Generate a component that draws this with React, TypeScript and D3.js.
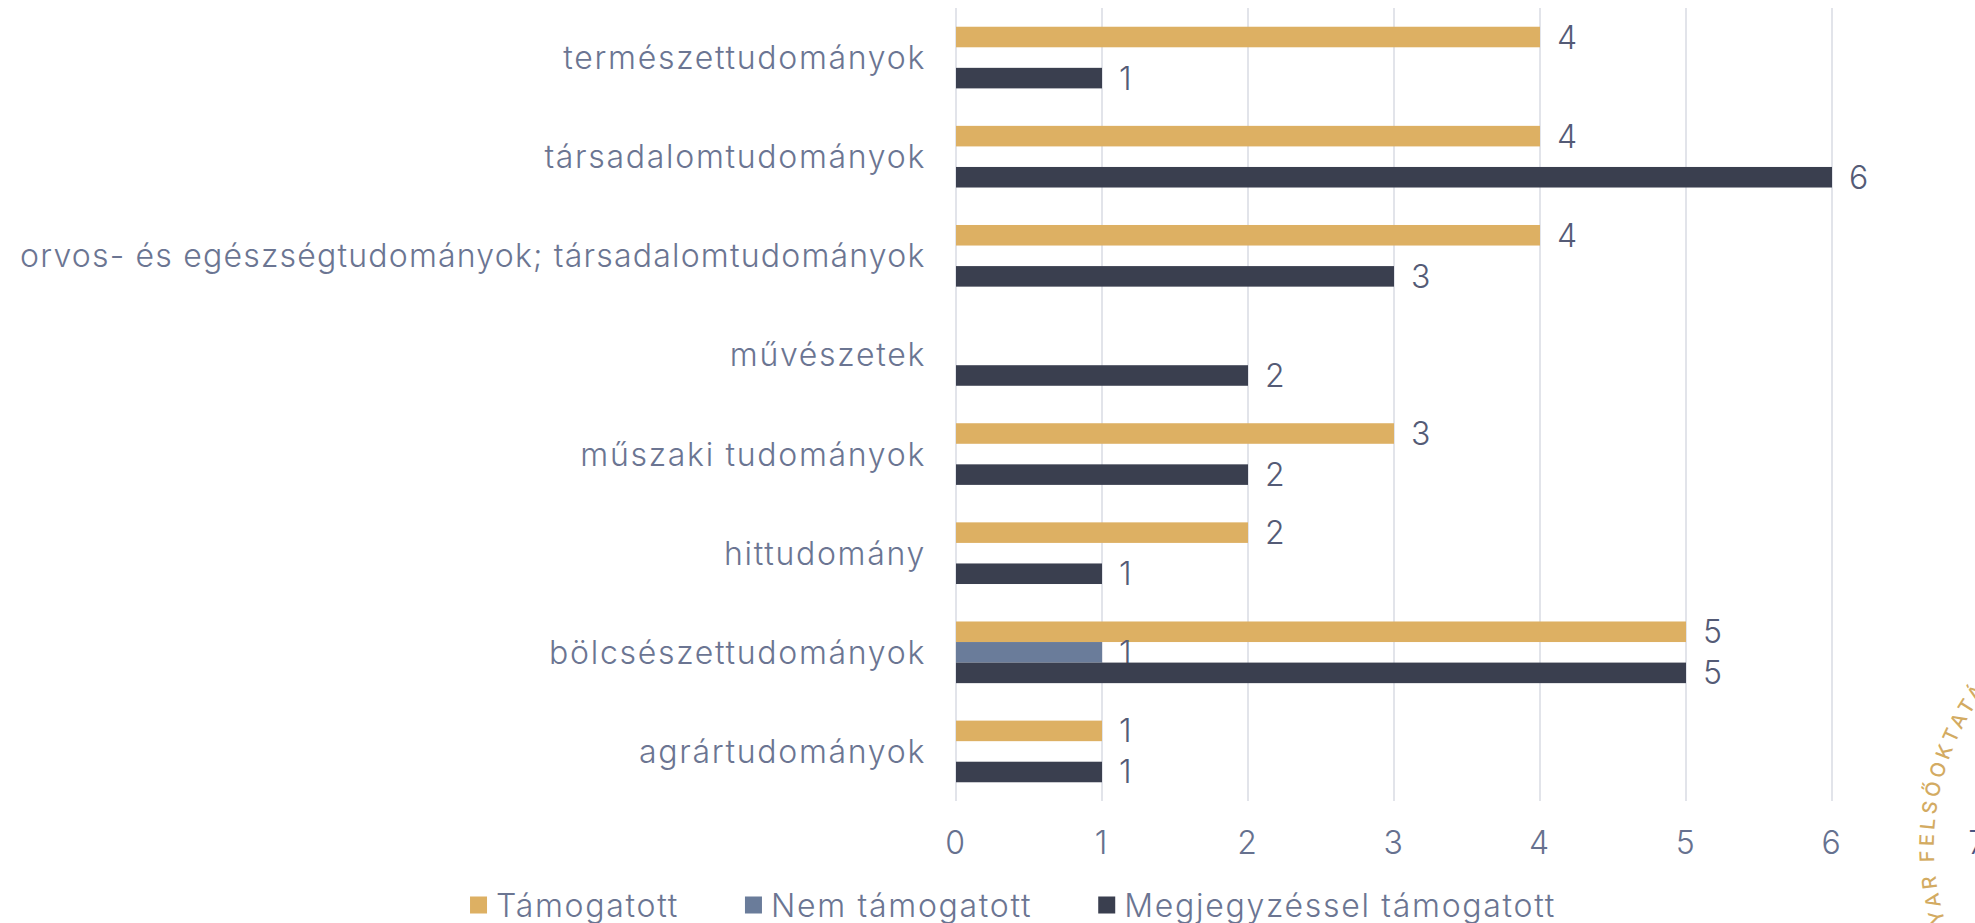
import React, { useEffect, useRef } from "react";
import * as d3 from "d3";

const categories = [
  "természettudományok",
  "társadalomtudományok",
  "orvos- és egészségtudományok; társadalomtudományok",
  "művészetek",
  "műszaki tudományok",
  "hittudomány",
  "bölcsészettudományok",
  "agrártudományok",
];
const seriesNames = ["Támogatott", "Nem támogatott", "Megjegyzéssel támogatott"];
const tamogatott = [4, 4, 4, null, 3, 2, 5, 1];
const nemTamogatott = [null, null, null, null, null, null, 1, null];
const megjegyzessel = [1, 6, 3, 2, 2, 1, 5, 1];
const xTicks = [0, 1, 2, 3, 4, 5, 6, 7];
const seriesColors = ["#DDB063", "#6A7C9A", "#3A3F4F"];
const watermark = "MAGYAR FELSŐOKTATÁSI AKKREDITÁCIÓS BIZOTTSÁG";

const FONT = "Inter, 'Open Sans', sans-serif";
const FS = 32;
const LS = 1.7;

export default function App() {
  const ref = useRef<SVGSVGElement>(null);

  useEffect(() => {
    const W = 1975, H = 923;
    const svg = d3.select(ref.current);
    svg.selectAll("*").remove();
    svg.attr("width", W).attr("height", H);

    const values = [tamogatott, nemTamogatott, megjegyzessel];

    const x = d3.scaleLinear().domain([0, 7]).range([956, 1978]);
    const y = d3.scaleBand<string>().domain(categories).range([8, 801])
      .paddingInner(0.378).paddingOuter(0.189);
    const ys = d3.scaleBand<string>().domain(seriesNames).range([0, y.bandwidth()]);

    const txt = (sel: any) => sel
      .attr("font-family", FONT).attr("font-weight", 300)
      .attr("font-size", FS).attr("letter-spacing", LS);

    // grid
    svg.append("g").selectAll("line").data(xTicks).enter().append("line")
      .attr("x1", d => x(d)).attr("x2", d => x(d))
      .attr("y1", 8).attr("y2", 801)
      .attr("stroke", "#D9DBE3").attr("stroke-width", 1.5);

    // bars + labels
    seriesNames.forEach((name, i) => {
      const rows = categories.map((c, j) => ({ c, v: values[i][j] })).filter(d => d.v != null);
      const g = svg.append("g");
      g.selectAll("rect").data(rows).enter().append("rect")
        .attr("x", x(0))
        .attr("y", d => (y(d.c) as number) + (ys(name) as number))
        .attr("width", d => x(d.v as number) - x(0))
        .attr("height", ys.bandwidth())
        .attr("fill", seriesColors[i]);
      g.selectAll("text").data(rows).enter().append("text")
        .attr("x", d => x(d.v as number) + 17)
        .attr("y", d => (y(d.c) as number) + (ys(name) as number) + ys.bandwidth() / 2)
        .attr("dominant-baseline", "central")
        .call(txt)
        .attr("fill", "#545B76")
        .text(d => String(d.v));
    });

    // category labels (squeeze the longest one so it keeps its left margin)
    const labelRight = 926, labelMax = 906;
    svg.append("g").selectAll("text").data(categories).enter().append("text")
      .attr("x", labelRight)
      .attr("y", d => (y(d) as number) + y.bandwidth() / 2)
      .attr("text-anchor", "end").attr("dominant-baseline", "central")
      .call(txt)
      .attr("fill", "#6B7592")
      .text(d => d)
      .each(function () {
        const n = this as SVGTextElement;
        if (n.getComputedTextLength() > labelMax) {
          d3.select(n).attr("textLength", labelMax).attr("lengthAdjust", "spacing");
        }
      });

    // tick labels
    svg.append("g").selectAll("text").data(xTicks).enter().append("text")
      .attr("x", d => x(d)).attr("y", 842)
      .attr("text-anchor", "middle").attr("dominant-baseline", "central")
      .call(txt)
      .attr("fill", (d, i) => (i === xTicks.length - 1 ? "#4A5683" : "#66718F"))
      .text(d => String(d));

    // watermark arc (cropped logo on the right edge)
    const wcx = 2192, wcy = 846, r = 258;
    const aStart = 140, aY = 163;
    const p = d3.path();
    p.arc(wcx, wcy, r, (aStart * Math.PI) / 180, (330 * Math.PI) / 180, false);
    svg.append("defs").append("path").attr("id", "wmArc").attr("d", p.toString());
    const wmStyle = (sel: any) => sel
      .attr("font-family", FONT).attr("font-size", 20).attr("font-weight", 500)
      .attr("letter-spacing", 4);
    const wt = svg.append("text").call(wmStyle).attr("fill", "#D3AB62");
    const tp = wt.append("textPath").attr("href", "#wmArc").text(watermark);
    const probe = svg.append("text").call(wmStyle).attr("opacity", 0).text("MAG");
    const magLen = (probe.node() as SVGTextElement).getComputedTextLength();
    probe.remove();
    tp.attr("startOffset", ((aY - aStart) * Math.PI / 180) * r - magLen);

    // legend
    const lg = svg.append("g");
    let cx = 0;
    seriesNames.forEach((name, i) => {
      lg.append("rect").attr("x", cx).attr("y", -8.5).attr("width", 17).attr("height", 17)
        .attr("fill", seriesColors[i]);
      const t = lg.append("text").attr("x", cx + 26).attr("y", 0)
        .attr("dominant-baseline", "central")
        .call(txt)
        .attr("fill", "#6B7592").text(name);
      const w = (t.node() as SVGTextElement).getComputedTextLength();
      cx += 26 + w + 66;
    });
    const lw = cx - 66;
    lg.attr("transform", `translate(${1013 - lw / 2},905)`);
  }, []);

  return (
    <div style={{ position: "absolute", left: 0, top: 0, width: 1975, height: 923, overflow: "hidden", background: "#fff" }}>
      <svg ref={ref} style={{ display: "block" }} />
    </div>
  );
}
